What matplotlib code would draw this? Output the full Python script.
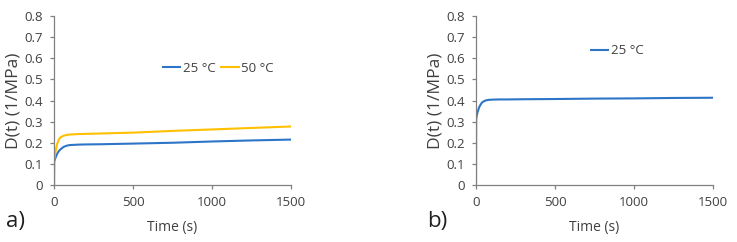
import matplotlib
matplotlib.use("Agg")
import matplotlib.pyplot as plt

plt.rcParams['font.family'] = ['Open Sans', 'DejaVu Sans']

time_s = [0, 1, 5, 10, 20, 30, 40, 60, 80, 100, 150, 200, 300, 500, 750, 1000, 1250, 1500]
a_25C = [0, 0.11, 0.12, 0.13, 0.148, 0.16, 0.168, 0.180, 0.186, 0.189, 0.191, 0.192, 0.193, 0.196, 0.200, 0.206, 0.211, 0.215]
a_50C = [0, 0.12, 0.14, 0.16, 0.195, 0.214, 0.225, 0.233, 0.237, 0.239, 0.241, 0.242, 0.244, 0.248, 0.256, 0.263, 0.270, 0.277]
b_25C = [0, 0.31, 0.33, 0.345, 0.368, 0.382, 0.392, 0.400, 0.403, 0.404, 0.405, 0.405, 0.406, 0.407, 0.409, 0.410, 0.412, 0.413]

x_ticks = [0, 500, 1000, 1500]
y_ticks = [0, 0.1, 0.2, 0.3, 0.4, 0.5, 0.6, 0.7, 0.8]
y_ticklabels = ['0', '0.1', '0.2', '0.3', '0.4', '0.5', '0.6', '0.7', '0.8']

blue = '#2E75C8'
gold = '#FFC000'
axcol = '#808080'
txtcol = '#404040'

fig = plt.figure(figsize=(7.37, 2.42), dpi=100)
W, H = 737, 242

def make_ax(x0, x1):
    y0, y1 = 185, 16
    ax = fig.add_axes([x0 / W, 1 - y0 / H, (x1 - x0) / W, (y0 - y1) / H])
    ax.set_xlim(0, 1500)
    ax.set_ylim(0, 0.8)
    ax.set_xticks(x_ticks)
    ax.set_yticks(y_ticks)
    ax.set_yticklabels(y_ticklabels)
    for s in ['top', 'right']:
        ax.spines[s].set_visible(False)
    for s in ['left', 'bottom']:
        ax.spines[s].set_color(axcol)
        ax.spines[s].set_linewidth(0.9)
    ax.tick_params(axis='both', colors=axcol, length=3, width=0.9, labelsize=9.5,
                   labelcolor=txtcol, pad=5)
    ax.set_xlabel('Time (s)', fontsize=10, color=txtcol, labelpad=8)
    ax.set_ylabel('D(t) (1/MPa)', fontsize=12.5, color=txtcol, labelpad=2)
    return ax

ax1 = make_ax(54, 291)
ax1.plot(time_s, a_25C, color=blue, lw=1.5, label='25 °C')
ax1.plot(time_s, a_50C, color=gold, lw=1.5, label='50 °C')
ax1.legend(loc='center left', bbox_to_anchor=(0.46, 0.692), ncol=2, frameon=False,
           fontsize=9.5, handlelength=1.3, handletextpad=0.2, columnspacing=0.45,
           labelcolor=txtcol, borderpad=0, borderaxespad=0)

ax2 = make_ax(476, 713)
ax2.plot(time_s, b_25C, color=blue, lw=1.5, label='25 °C')
ax2.legend(loc='center left', bbox_to_anchor=(0.485, 0.793), frameon=False,
           fontsize=9.5, handlelength=1.3, handletextpad=0.2,
           labelcolor=txtcol, borderpad=0, borderaxespad=0)

fig.text(6 / W, 1 - 221 / H, 'a)', fontsize=16, va='center', ha='left', color='#202020')
fig.text(427 / W, 1 - 221 / H, 'b)', fontsize=16, va='center', ha='left', color='#202020')

fig.savefig('out.png', dpi=100)
